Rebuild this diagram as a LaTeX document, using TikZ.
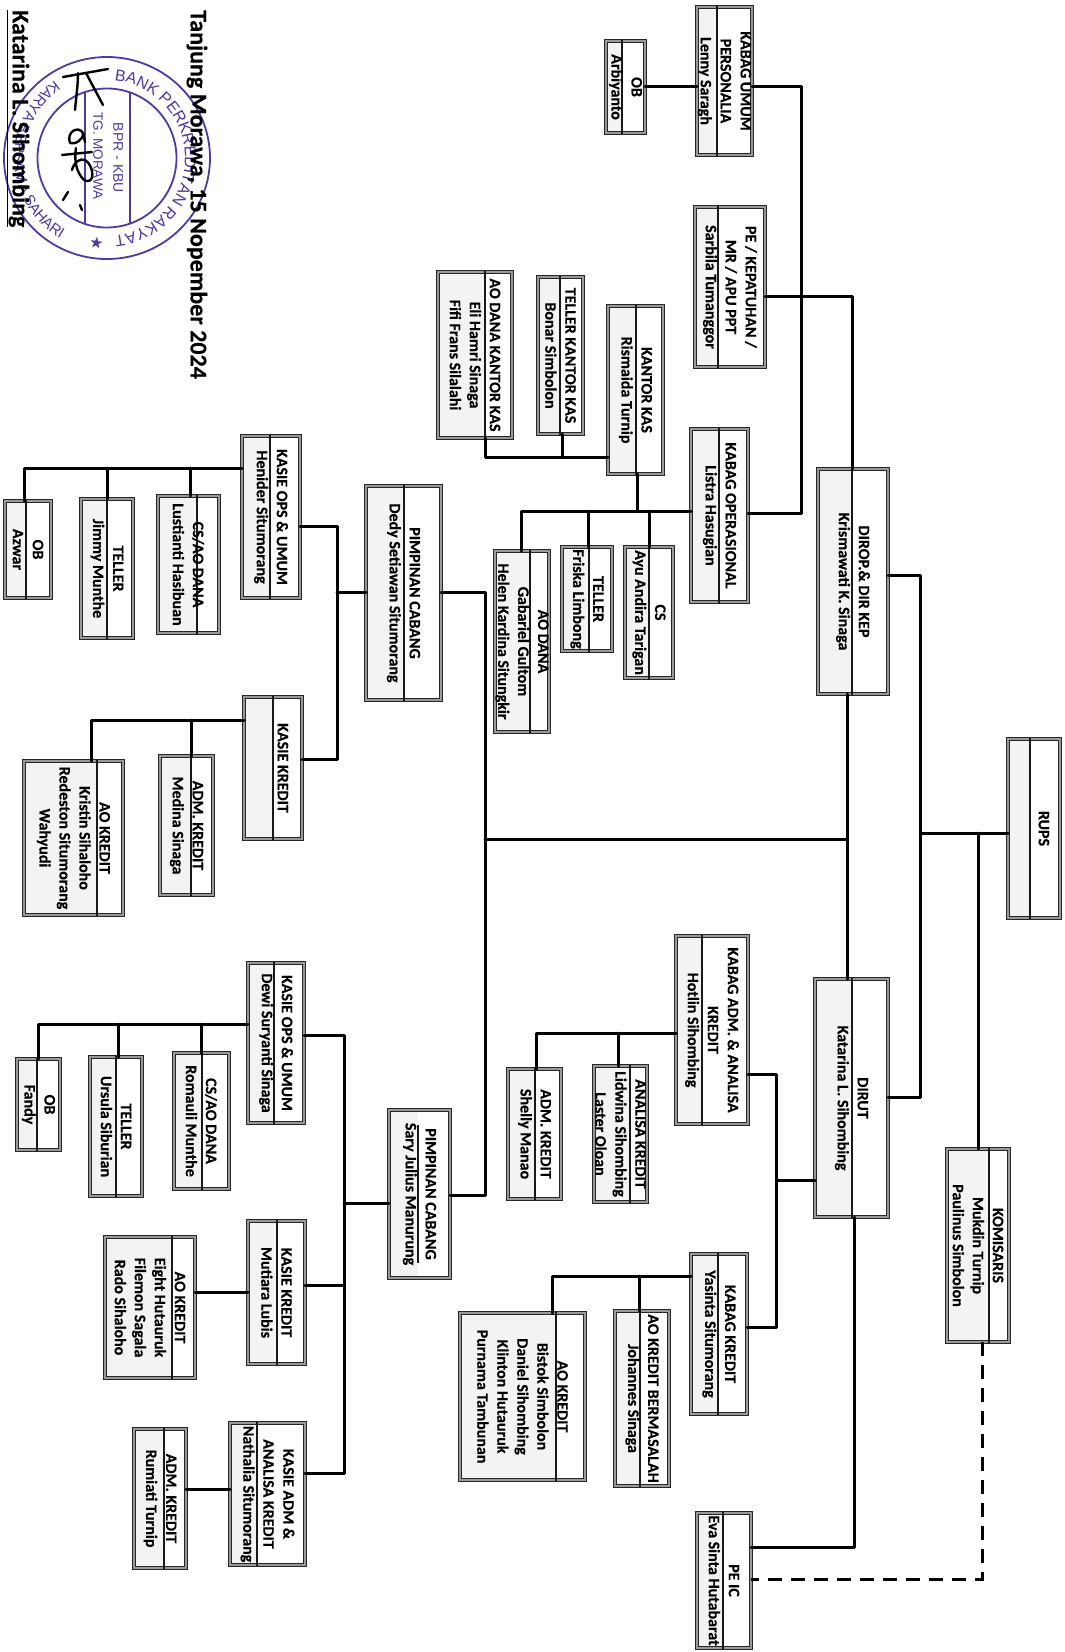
\documentclass[tikz,border=0pt]{standalone}
\usepackage{fontspec}
\setmainfont[BoldFeatures={FakeBold=0.3}]{Carlito}
\newfontfamily\stampfont{Liberation Sans}
\newfontfamily\symfont{DejaVu Sans}
\usetikzlibrary{decorations.text}
\definecolor{stampblue}{RGB}{80,56,165}
\definecolor{bodygrey}{RGB}{243,243,243}
\tikzset{
  orgshape/.style={draw=black!85,double=black!40,double distance=1.5pt,line width=1.2pt,inner sep=0pt,outer sep=0pt,rectangle},
  orgtext/.style={rotate=-90,align=center,inner sep=0pt,text=black,font=\bfseries\fontsize{16}{20}\selectfont},
  divline/.style={line width=1.4pt,draw=black!90},
  conn/.style={line width=3pt,draw=black,line cap=round,line join=round},
  dashconn/.style={line width=3pt,draw=black,dash pattern=on 14pt off 9pt},
  stamp/.style={draw=stampblue,line width=1.8pt},
  sign/.style={draw=black,line width=2.4pt,line cap=round,line join=round},
}
% [divider inset]{name}{x0}{y0}{x1}{y1}{divider x}{text}
\newcommand\orgbox[8][0]{%
  \fill[bodygrey] (#3,#4) rectangle (#7,#6);
  \node[orgshape,minimum width={(#5-#3-4)*1pt},minimum height={(#6-#4-4)*1pt}] (#2) at ({(#3+#5)/2},{(#4+#6)/2}) {};
  \draw[divline] (#7,{#4+#1+1}) -- (#7,{#6-#1-1});
  \node[orgtext] (#2-t) at ({(#3+#5)/2},{(#4+#6)/2}) {#8};
}
\begin{document}
\begin{tikzpicture}[x=1pt,y=-1pt]
\useasboundingbox (0,0) rectangle (1065,1652);
\fill[white] (0,0) rectangle (1065,1652);

% top-right group
\orgbox{kabagumum}{695}{5}{754}{157}{717}{KABAG UMUM\\PERSONALIA\\Lenny Saragh}
\orgbox{obarb}{604}{39}{647}{135}{622}{OB\\Arbiyanto}
\orgbox{pekep}{693}{205}{767}{369}{718}{PE / KEPATUHAN /\\MR / APU PPT\\Sarbila Tumanggor}
\orgbox{aodanakk}{436}{270}{514}{440}{485}{AO DANA KANTOR KAS\\Eli Hamri Sinaga\\Fifi Frans Silalahi}
\orgbox{tellerkk}{536}{275}{585}{436}{560}{TELLER KANTOR KAS\\Bonar Simbolon}
\orgbox{kantorkas}{606}{304}{665}{476}{636}{KANTOR KAS\\Rismaida Turnip}
\orgbox{kabagop}{689}{427}{750}{604}{719}{KABAG OPERASIONAL\\Listra Hasugian}
\orgbox{dirop}{816}{467}{890}{696}{852}{DIROP.\& DIR KEP\\Krismawati K. Sinaga}
\orgbox{aodana}{493}{549}{551}{734}{530}{AO DANA\\Gabariel Gultom\\Helen Kardina Situngkir}
\orgbox{tellerf}{560}{545}{614}{653}{589}{TELLER\\Friska Limbong}
\orgbox{cs}{623}{545}{675}{680}{649}{CS\\Ayu Andira Tarigan}

% branch 1
\orgbox{pimp}{364}{484}{443}{702}{404}{PIMPINAN CABANG\\Dedy Setiawan Situmorang}
\orgbox{kasieops}{240}{434}{302}{600}{270}{KASIE OPS \& UMUM\\Henider Situmorang}
\orgbox{csao}{156}{494}{221}{635}{197}{CS/AO DANA\\Lustianti Hasibuan}
\orgbox{tellerj}{79}{497}{135}{640}{107}{TELLER\\Jimmy Munthe}
\orgbox{obaz}{3}{499}{53}{600}{26}{OB\\Azwar}
\orgbox{kasiekr}{242}{695}{304}{841}{273}{KASIE KREDIT\\~}
\orgbox{admm}{158}{754}{215}{897}{191}{ADM. KREDIT\\Medina Sinaga}
\orgbox{aok}{22}{759}{125}{917}{97}{AO KREDIT\\Kristin Sihaloho\\Redeston Situmorang\\Wahyudi}

% centre
\orgbox{rups}{1006}{737}{1062}{920}{1030}{RUPS\\~}
\orgbox{kabagadm}{674}{934}{750}{1126}{702}{KABAG ADM. \& ANALISA\\KREDIT\\Hotlin Sihombing}
\orgbox{dirut}{813}{977}{890}{1219}{852}{DIRUT\\Katarina L. Sihombing}
\orgbox{komis}{945}{1147}{1011}{1344}{989}{KOMISARIS\\Mukdin Turnip\\Paulinus Simbolon}
\orgbox{admsh}{506}{1067}{563}{1201}{535}{ADM. KREDIT\\Shelly Manao}
\orgbox{analisa}{592}{1064}{649}{1204}{630}{ANALISA KREDIT\\Lidwina Sihombing\\Laster Oloan}
\orgbox{kabagkr}{689}{1252}{749}{1416}{718}{KABAG KREDIT\\Yasinta Situmorang}
\orgbox{aoberm}{613}{1309}{671}{1488}{640}{AO KREDIT BERMASALAH\\Johannes Sinaga}
\orgbox{aobis}{458}{1311}{587}{1482}{556}{AO KREDIT\\Bistok Simbolon\\Daniel Sihombing\\Klinton Hutauruk\\Purnama Tambunan}
\orgbox{peic}{695}{1511}{753}{1650}{723}{PE IC\\Eva Sinta Hutabarat}

% branch 2
\orgbox[16]{pimpb}{387}{1108}{452}{1280}{418}{PIMPINAN CABANG\\Sary Julius Manurung}
\orgbox{kasieopsb}{246}{961}{306}{1125}{274}{KASIE OPS \& UMUM\\Dewi Suryanti Sinaga}
\orgbox{csaob}{172}{1051}{231}{1191}{202}{CS/AO DANA\\Romauli Munthe}
\orgbox{tellerb}{88}{1055}{144}{1198}{116}{TELLER\\Ursula Siburian}
\orgbox{obfa}{15}{1057}{62}{1152}{37}{OB\\Fandy}
\orgbox{kasiemu}{246}{1219}{307}{1366}{277}{KASIE KREDIT\\Mutiara Lubis}
\orgbox{aoeig}{103}{1235}{197}{1380}{172}{AO KREDIT\\Eight Hutauruk\\Filemon Sagala\\Rado Sihaloho}
\orgbox{kasieadm}{228}{1421}{307}{1567}{257}{KASIE ADM \&\\ANALISA KREDIT\\Nathalia Situmorang}
\orgbox{admru}{132}{1427}{188}{1570}{164}{ADM. KREDIT\\Rumiati Turnip}

% connectors top right
\draw[conn] (obarb.east |- 0,86) -- (kabagumum.west |- 0,86);
\draw[conn] (kabagumum.east |- 0,86) -- (801,86) -- (801,513) -- (kabagop.east |- 0,513);
\draw[conn] (pekep.east |- 0,296) -- (852,296) -- (dirop.north -| 852,0);
\draw[conn] (kantorkas.west |- 0,457) -- (485,457) -- (aodanakk.south -| 485,0);
\draw[conn] (562,457) -- (tellerkk.south -| 562,0);
\draw[conn] (kantorkas.south -| 637,0) -- (637,511);
\draw[conn] (kabagop.west |- 0,511) -- (521,511) -- (aodana.north -| 521,0);
\draw[conn] (588,511) -- (tellerf.north -| 588,0);
\draw[conn] (649,511) -- (cs.north -| 649,0);

% top level
\draw[conn] (rups.west |- 0,833) -- (921,833);
\draw[conn] (978,833) -- (komis.north -| 978,0);
\draw[conn] (dirop.east |- 0,575) -- (920,575) -- (920,1097) -- (dirut.east |- 0,1097);
\draw[conn] (dirop.south -| 847,0) -- (dirut.north -| 847,0);
\draw[conn] (847,839) -- (485,839);
\draw[conn] (pimp.east |- 0,592) -- (485,592) -- (485,1195) -- (pimpb.east |- 0,1195);

% branch 1
\draw[conn] (kasieops.west |- 0,468) -- (24,468) -- (obaz.north -| 24,0);
\draw[conn] (107,468) -- (tellerj.north -| 107,0);
\draw[conn] (190,468) -- (csao.north -| 190,0);
\draw[conn] (kasieops.east |- 0,526) -- (337,526) -- (337,759) -- (kasiekr.east |- 0,759);
\draw[conn] (pimp.west |- 0,592) -- (337,592);
\draw[conn] (kasiekr.west |- 0,720) -- (91,720) -- (aok.north -| 91,0);
\draw[conn] (191,720) -- (admm.north -| 191,0);

% centre
\draw[conn] (kabagadm.west |- 0,1033) -- (536,1033) -- (admsh.north -| 536,0);
\draw[conn] (618,1033) -- (analisa.north -| 618,0);
\draw[conn] (kabagadm.east |- 0,1074) -- (776,1074) -- (776,1327) -- (kabagkr.east |- 0,1327);
\draw[conn] (dirut.west |- 0,1180) -- (776,1180);
\draw[conn] (kabagkr.west |- 0,1276) -- (552,1276) -- (aobis.north -| 552,0);
\draw[conn] (639,1276) -- (aoberm.north -| 639,0);
\draw[conn] (dirut.south -| 854,0) -- (854,1547) -- (peic.east |- 0,1547);
\draw[dashconn] (komis.south -| 982,0) -- (982,1579) -- (peic.east |- 0,1579);

% branch 2
\draw[conn] (kasieopsb.west |- 0,1024) -- (38,1024) -- (obfa.north -| 38,0);
\draw[conn] (118,1024) -- (tellerb.north -| 118,0);
\draw[conn] (201,1024) -- (csaob.north -| 201,0);
\draw[conn] (kasieopsb.east |- 0,1035) -- (344,1035) -- (344,1473) -- (kasieadm.east |- 0,1473);
\draw[conn] (pimpb.west |- 0,1203) -- (344,1203);
\draw[conn] (kasiemu.east |- 0,1285) -- (344,1285);
\draw[conn] (aoeig.east |- 0,1292) -- (kasiemu.west |- 0,1292);
\draw[conn] (admru.east |- 0,1489) -- (kasieadm.west |- 0,1489);

% stamp
\begin{scope}[shift={(107,158)},x=1pt,y=1pt]
  \draw[stamp] (0,0) circle[x radius=103pt,y radius=101pt];
  \draw[stamp] (0,0) circle[radius=69.5pt];
  \draw[stamp] (-22,66) -- (-22,-66);
  \draw[stamp] (23,66) -- (23,-66);
  \path[decorate,decoration={text along path,text align=center,text color=stampblue,
     text={|\stampfont\fontsize{16}{16}\selectfont|BANK PERKREDITAN RAKYAT}}]
     (100:78pt) arc[start angle=100,end angle=-100,radius=78pt];
  \path[decorate,decoration={text along path,text align=center,text color=stampblue,
     text={|\stampfont\fontsize{15}{15}\selectfont|KARYA BERSAMA SAHARI}}]
     (112:93pt) arc[start angle=112,end angle=252,radius=93pt];
  \node[text=stampblue,rotate=-8,font=\symfont\fontsize{16}{16}\selectfont] (stampstar) at (263:85pt) {★};
  \node[text=stampblue,rotate=-90,font=\stampfont\fontsize{14}{14}\selectfont] (stampa) at (11,0) {BPR - KBU};
  \node[text=stampblue,rotate=-90,font=\stampfont\fontsize{13.5}{14}\selectfont] (stampb) at (-9,2) {TG. MORAWA};
\end{scope}

% signature
\draw[sign] (63,77) -- (108,69);
\draw[sign] (78,73) .. controls (78,85) and (76,98) .. (75,110);
\draw[sign] (86,73) -- (103,105);
\draw[sign] (70,143) .. controls (66,132) and (78,125) .. (83,133) .. controls (84,140) and (74,145) .. (70,143);
\draw[sign] (83,133) -- (85,142);
\draw[sign] (62,155) -- (92,152);
\draw[sign] (76,148) .. controls (74,160) and (76,172) .. (84,180) .. controls (96,186) and (94,165) .. (85,160) .. controls (80,158) and (74,162) .. (72,170);
\draw[sign] (68,192) -- (63,200);
\draw[sign] (80,205) -- (82,210);

% date and name
\node[rotate=-90,anchor=west,inner sep=0pt,text=black,font=\bfseries\fontsize{24}{26}\selectfont] (datetext) at (197,10) {Tanjung Morawa, 15 Nopember 2024};
\node[rotate=-90,anchor=west,inner sep=0pt,text=black,font=\bfseries\fontsize{24}{26}\selectfont] (signname) at (18,10) {\underline{Katarina L. Sihombing}};
\end{tikzpicture}
\end{document}
